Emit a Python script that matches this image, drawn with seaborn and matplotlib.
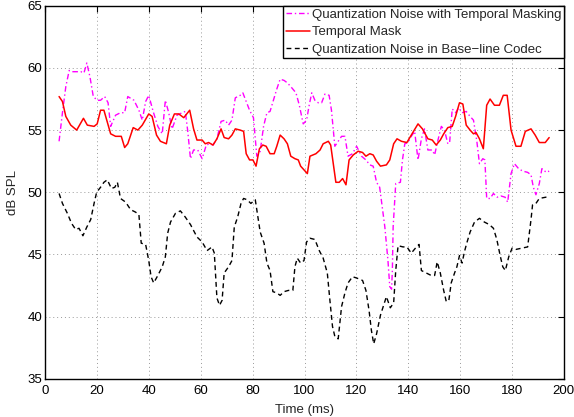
import matplotlib
matplotlib.use("Agg")
import matplotlib.pyplot as plt
import seaborn as sns
import pandas as pd

# ---- data ----
mask_t = [5.3, 6.6, 7.9, 9.8, 12.1, 14.7, 16.2, 18.8, 20.0, 21.3, 22.6, 25.2, 27.1, 29.3, 30.6, 31.8,
          33.9, 35.7, 37.4, 39.9, 41.2, 42.9, 44.4, 46.7, 48.0, 49.8, 51.5, 53.4, 55.7, 57.2, 58.5,
          60.5, 61.7, 63.0, 64.7, 66.2, 67.8, 69.0, 70.7, 72.0, 73.3, 75.2, 76.5, 77.5, 78.8, 80.1,
          81.3, 82.6, 83.9, 85.2, 86.7, 88.3, 89.3, 90.6, 92.1, 93.4, 94.7, 96.3, 97.6, 98.5, 99.8,
          101.1, 102.1, 104.4, 106.0, 107.2, 109.2, 110.1, 111.1, 112.1, 113.4, 114.7, 116.0, 117.2,
          118.8, 120.7, 122.4, 123.7, 125.2, 126.5, 127.8, 129.3, 131.6, 132.9, 134.4, 135.7, 137.4,
          139.5, 141.2, 143.8, 145.5, 147.6, 149.3, 150.8, 152.4, 153.7, 155.3, 157.0, 158.3, 159.8,
          161.1, 162.4, 163.9, 165.2, 166.2, 167.5, 169.0, 170.3, 171.6, 173.3, 175.2, 176.7, 178.2,
          179.7, 181.6, 183.5, 185.2, 187.4, 189.0, 190.6, 192.9, 194.4]
mask_db = [57.7, 57.3, 56.1, 55.4, 55.0, 55.95, 55.4, 55.3, 55.5, 56.6, 56.6, 54.7, 54.5, 54.5, 53.6, 53.9,
           55.2, 55.0, 55.4, 56.3, 56.1, 54.6, 54.1, 53.9, 55.4, 56.3, 56.3, 56.0, 56.6, 55.1, 54.2,
           54.2, 53.9, 54.0, 53.8, 54.3, 55.1, 54.4, 54.3, 54.6, 55.1, 55.0, 54.9, 53.1, 52.6, 52.6,
           52.1, 53.5, 53.8, 53.7, 53.1, 53.1, 53.7, 54.6, 54.3, 53.9, 52.9, 52.7, 52.6, 52.1, 51.8,
           51.5, 52.9, 53.1, 53.4, 53.9, 54.1, 53.8, 52.3, 50.8, 50.8, 51.1, 50.6, 52.6,
           53.0, 53.3, 53.2, 52.9, 53.1, 53.0, 52.5, 52.1, 52.2, 52.6, 53.9, 54.3, 54.1,
           54.0, 54.6, 55.5, 55.1, 54.3, 54.2, 53.8, 54.2, 54.7, 55.2, 55.3, 56.1, 57.2,
           57.1, 55.4, 55.0, 54.7, 54.8, 54.3, 53.5, 57.0, 57.5, 57.0, 57.0, 57.8, 57.8,
           55.0, 53.7, 53.7, 54.9, 55.1, 54.6, 54.0, 54.0, 54.4]

tm_noise_t = [5.3, 6.6, 7.9, 9.2, 10.4, 13.7, 14.9, 16.0, 17.2, 18.5, 20.0, 21.3, 22.9, 24.2, 25.2, 27.1,
              29.0, 30.6, 31.8, 34.2, 36.1, 37.4, 38.7, 39.9, 41.6, 43.4, 45.1, 46.3, 47.6, 48.9, 50.8,
              52.8, 54.0, 54.9, 56.0, 57.2, 58.8, 60.5, 62.1, 63.4, 64.7, 66.2, 67.8, 69.4, 70.7, 72.0,
              73.3, 75.2, 76.2, 77.5, 78.8, 80.3, 81.6, 82.9, 84.2, 85.5, 86.7, 88.0, 89.3, 90.6, 92.1,
              93.4, 95.1, 96.7, 98.0, 99.5, 100.8, 101.8, 102.8, 104.0, 105.3, 106.6, 107.9, 109.5,
              110.4, 111.7, 113.0, 114.3, 115.6, 116.8, 118.5, 120.1, 122.0, 123.7, 125.2, 126.5,
              127.8, 129.0, 131.0, 132.2, 132.9, 133.6, 133.9, 134.2, 135.2, 137.0, 137.8, 138.7,
              139.9, 141.2, 142.5, 143.8, 145.1, 146.3, 147.6, 149.3, 150.2, 151.5, 152.8, 154.0,
              155.3, 156.0, 157.0, 158.3, 159.5, 160.8, 162.4, 163.9, 165.2, 166.5, 167.5, 168.8,
              169.6, 170.3, 171.6, 172.9, 174.3, 175.8, 177.4, 178.4, 179.7, 181.0, 182.6, 184.2,
              186.1, 187.4, 188.3, 189.3, 190.6, 191.6, 193.3, 194.4]
tm_noise_db = [54.1, 56.4, 58.5, 59.8, 59.7, 59.7, 59.6, 60.4, 59.3, 57.7, 57.4, 57.4, 57.7, 57.2, 55.3, 56.2,
               56.4, 56.4, 57.7, 57.4, 56.6, 55.8, 57.3, 57.8, 56.5, 55.3, 54.7, 57.4, 56.4, 55.1, 56.2,
               56.4, 56.5, 55.0, 52.7, 53.4, 53.4, 52.7, 53.8, 53.9, 53.8, 54.3, 55.7, 55.8, 55.4, 55.8,
               57.6, 57.8, 58.0, 57.3, 56.6, 56.0, 52.9, 53.3, 55.3, 56.4, 56.5, 57.4, 58.3, 59.1, 59.0,
               58.8, 58.4, 58.0, 57.0, 55.5, 55.8, 57.0, 58.0, 57.4, 57.2, 57.2, 57.9, 57.8,
               56.6, 53.7, 54.1, 54.5, 54.5, 52.9, 53.1, 53.7, 52.9, 52.6, 52.2, 52.1,
               50.8, 50.4, 47.2, 44.5, 42.4, 42.2, 43.7, 47.2, 50.7, 50.8, 52.6, 53.9,
               54.0, 54.5, 54.9, 52.6, 54.3, 55.1, 53.4, 53.4, 53.0, 54.2, 55.3, 55.0,
               53.9, 54.0, 56.7, 56.4, 56.8, 56.4, 56.5, 56.1, 55.8, 54.1, 52.3, 52.7,
               52.6, 49.5, 49.5, 49.9, 49.6, 49.7, 49.6, 49.2, 51.5, 52.3, 51.9, 51.7,
               51.6, 51.4, 50.4, 49.8, 50.7, 51.9, 51.6, 51.7]

base_t = [5.3, 6.6, 8.5, 10.1, 11.7, 13.0, 14.5, 16.0, 17.5, 18.8, 19.8, 21.3, 22.6, 23.9, 25.5, 26.8,
          27.8, 29.0, 31.0, 32.9, 34.8, 36.1, 37.0, 38.7, 39.9, 40.8, 41.8, 43.4, 45.1, 46.3, 47.2,
          48.3, 50.2, 52.1, 54.0, 56.0, 58.5, 60.5, 62.4, 64.3, 65.2, 65.6, 66.2, 67.2, 68.2, 69.0,
          70.7, 72.0, 72.9, 74.2, 75.5, 76.5, 77.8, 79.3, 81.0, 81.8, 82.9, 84.4, 85.5, 86.7, 87.8,
          89.3, 90.6, 92.1, 93.8, 95.5, 96.3, 97.2, 98.5, 99.8, 100.8, 102.1, 104.0, 105.7, 107.2,
          108.8, 109.8, 110.8, 111.7, 113.0, 114.3, 115.6, 116.8, 118.5, 120.1, 122.4, 123.7, 124.9,
          125.8, 126.7, 127.8, 129.3, 131.6, 133.1, 134.4, 135.2, 136.1, 138.0, 139.5, 141.2, 143.2,
          144.2, 145.1, 147.0, 148.9, 150.2, 151.2, 152.4, 153.7, 154.7, 155.7, 156.6, 157.9, 158.8,
          159.8, 160.8, 161.7, 162.6, 163.9, 165.6, 167.5, 169.4, 171.3, 172.9, 174.2, 175.5, 176.5,
          177.5, 178.8, 180.1, 181.6, 183.9, 186.1, 187.4, 188.0, 189.3, 190.6, 193.1, 194.4]
base_db = [49.9, 49.1, 48.3, 47.5, 47.0, 47.1, 46.5, 47.2, 47.8, 49.1, 50.0, 50.4, 50.8, 51.0, 50.3, 50.4,
           50.8, 49.5, 49.2, 48.6, 48.4, 48.2, 45.9, 45.8, 44.5, 43.2, 42.7, 43.3, 44.0, 44.8, 46.7,
           47.6, 48.3, 48.5, 48.0, 47.4, 46.4, 46.0, 45.3, 45.6, 45.1, 43.7, 41.5, 40.9, 41.3, 43.5,
           44.0, 44.5, 47.2, 48.0, 49.1, 49.5, 49.4, 49.1, 49.4, 48.3, 46.8, 45.9, 44.3, 43.7, 42.0,
           41.9, 41.7, 42.0, 42.1, 42.1, 44.0, 44.7, 44.3, 44.5, 46.0, 46.3, 46.2, 45.3, 44.7,
           43.5, 41.3, 39.2, 38.4, 38.2, 40.8, 41.9, 42.7, 43.2, 43.1, 42.9, 42.1, 40.5,
           38.9, 37.8, 38.6, 40.1, 41.6, 40.7, 41.1, 43.7, 45.7, 45.6, 45.6, 45.1, 45.6,
           45.8, 43.7, 43.5, 43.3, 43.3, 44.4, 43.5, 42.1, 41.2, 41.3, 42.7, 43.5, 44.0,
           44.9, 44.3, 45.2, 45.9, 46.8, 47.6, 47.9, 47.6, 47.4, 47.1, 46.2, 44.9, 44.0,
           43.7, 44.8, 45.5, 45.4, 45.5, 45.6, 47.8, 49.0, 49.1, 49.5, 49.6, 49.6]

labels = ["Quantization Noise with Temporal Masking",
          "Temporal Mask",
          "Quantization Noise in Base\u2212line Codec"]
x_ticks = [0, 20, 40, 60, 80, 100, 120, 140, 160, 180, 200]
y_ticks = [35, 40, 45, 50, 55, 60, 65]

# ---- styling ----
sns.set_style("white")
plt.rcParams["font.family"] = ["Liberation Sans", "DejaVu Sans"]
plt.rcParams["axes.unicode_minus"] = True

fig = plt.figure(figsize=(5.74, 4.17), dpi=100)
ax = fig.add_axes([0.079, 0.092, 0.903, 0.894])

df_tm = pd.DataFrame({"t": tm_noise_t, "db": tm_noise_db})
df_mask = pd.DataFrame({"t": mask_t, "db": mask_db})
df_base = pd.DataFrame({"t": base_t, "db": base_db})

sns.lineplot(data=df_tm, x="t", y="db", ax=ax, color="#ff00ff", lw=1.0,
             linestyle=(0, (4, 2, 1, 2)), label=labels[0], estimator=None, sort=False)
sns.lineplot(data=df_mask, x="t", y="db", ax=ax, color="#ff0000", lw=1.1,
             linestyle="-", label=labels[1], estimator=None, sort=False)
sns.lineplot(data=df_base, x="t", y="db", ax=ax, color="black", lw=1.0,
             linestyle=(0, (3.5, 2.5)), label=labels[2], estimator=None, sort=False)

ax.set_xlim(0, 200)
ax.set_ylim(35, 65)
ax.set_xticks(x_ticks)
ax.set_yticks(y_ticks)
ax.tick_params(direction="in", top=True, right=True, length=4, width=0.8,
               labelsize=9.5, colors="black")
ax.tick_params(axis="x", pad=4.5)
ax.tick_params(axis="y", pad=2)
ax.grid(True, linestyle=(0, (1, 3)), color="#999999", linewidth=0.7)
for s in ax.spines.values():
    s.set_color("black")
    s.set_linewidth(1.0)
ax.set_xlabel("Time (ms)", fontsize=9.5, labelpad=5)
ax.set_ylabel("dB SPL", fontsize=9.5, labelpad=6)

leg = ax.legend(loc="upper right", borderaxespad=0, fontsize=9.5, frameon=True,
                fancybox=False, edgecolor="black", framealpha=1, handlelength=1.8,
                handletextpad=0.15, labelspacing=0.4, borderpad=0.2)
leg.get_frame().set_linewidth(1.0)

fig.savefig("out.png", dpi=100)
